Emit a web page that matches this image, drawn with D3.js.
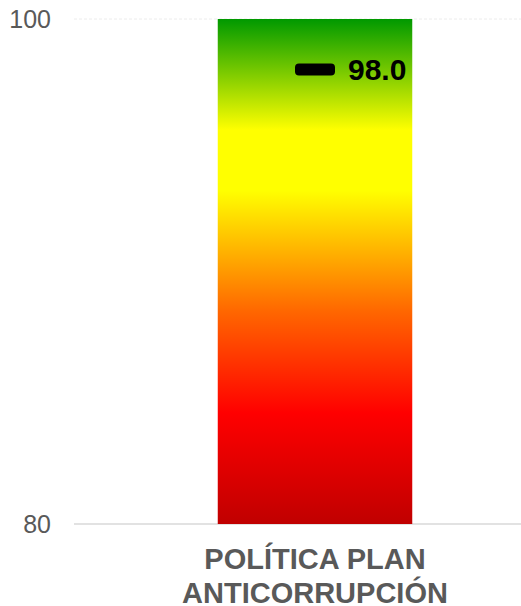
<!DOCTYPE html>
<html>
<head>
<meta charset="utf-8">
<script src="https://cdn.jsdelivr.net/npm/d3@7"></script>
<style>
  body { margin: 0; background: #fff; }
  text { font-family: "Liberation Sans", Arial, sans-serif; }
</style>
</head>
<body>
<script>
// Data
var categories = ["POLÍTICA PLAN ANTICORRUPCIÓN"];
var categoryLines = [["POLÍTICA PLAN", "ANTICORRUPCIÓN"]];
var bandLow = [80];
var bandHigh = [100];
var scores = [98.0];
var yTicks = [80, 100];

// Colour ramp of the background bar (offset, colour)
var gradientStops = [
    [0, "#009900"],
    [0.22, "#ffff00"],
    [0.34, "#ffff00"],
    [0.58, "#ff6600"],
    [0.78, "#ff0000"],
    [1, "#c00000"]
];

var width = 521;
var height = 606;
var plotLeft = 74;
var plotTop = 19;
var plotBottom = 524;

var svg = d3.select("body").
    append("svg").
    attr("width", width).
    attr("height", height);

var xScale = d3.scaleBand().
    domain(categories).
    range([plotLeft, 556]).
    padding(0.425);
var yScale = d3.scaleLinear().
    domain([80, 100]).
    range([plotBottom, plotTop]);

// Gradient for the bar
var grad = svg.append("defs").
    append("linearGradient").
    attr("id", "ramp").
    attr("x1", 0).attr("y1", 0).
    attr("x2", 0).attr("y2", 1);
grad.selectAll("stop").
    data(gradientStops).
    enter().
    append("stop").
    attr("offset", function(d) { return d[0]; }).
    attr("stop-color", function(d) { return d[1]; });

// Gridlines
svg.selectAll("line.grid").
    data(yTicks).
    enter().
    append("line").
    attr("class", "grid").
    attr("x1", plotLeft).
    attr("x2", width).
    attr("y1", function(d) { return yScale(d); }).
    attr("y2", function(d) { return yScale(d); }).
    attr("stroke", function(d) { return d == 80 ? "#d9d9d9" : "#ececec"; }).
    attr("stroke-width", function(d) { return d == 80 ? 1.5 : 1; }).
    attr("stroke-dasharray", function(d) { return d == 80 ? null : "3,2"; });

// Y axis labels
var yAxis = d3.axisLeft(yScale).
    tickValues(yTicks).
    tickSize(0).
    tickPadding(0);
var gy = svg.append("g").
    attr("transform", "translate(51,0)").
    call(yAxis);
gy.select(".domain").remove();
gy.selectAll("text").
    attr("font-family", "Liberation Sans, Arial, sans-serif").
    attr("font-size", "25px").
    attr("fill", "#595959").
    attr("dy", "0.35em");

// Background bar with the colour ramp
svg.selectAll("rect.bar").
    data(categories).
    enter().
    append("rect").
    attr("class", "bar").
    attr("x", function(d) { return xScale(d); }).
    attr("y", function(d, i) { return yScale(bandHigh[i]); }).
    attr("width", xScale.bandwidth()).
    attr("height", function(d, i) { return yScale(bandLow[i]) - yScale(bandHigh[i]); }).
    attr("fill", "url(#ramp)");

// Score marker
svg.selectAll("rect.marker").
    data(scores).
    enter().
    append("rect").
    attr("class", "marker").
    attr("x", function(d, i) { return xScale(categories[i]) + xScale.bandwidth() / 2 - 20; }).
    attr("y", function(d) { return yScale(d) - 6; }).
    attr("width", 40).
    attr("height", 12).
    attr("rx", 4).
    attr("fill", "#000");

svg.selectAll("text.score").
    data(scores).
    enter().
    append("text").
    attr("class", "score").
    attr("x", function(d, i) { return xScale(categories[i]) + xScale.bandwidth() / 2 + 33; }).
    attr("y", function(d) { return yScale(d); }).
    attr("dy", "0.36em").
    attr("font-size", "30px").
    attr("font-weight", "bold").
    attr("fill", "#000").
    text(function(d) { return d.toFixed(1); });

// Category label
var cat = svg.selectAll("text.cat").
    data(categories).
    enter().
    append("text").
    attr("class", "cat").
    attr("x", function(d) { return xScale(d) + xScale.bandwidth() / 2; }).
    attr("y", 569).
    attr("font-size", "29px").
    attr("font-weight", "bold").
    attr("fill", "#595959").
    style("text-anchor", "middle");
cat.selectAll("tspan").
    data(function(d, i) { return categoryLines[i]; }).
    enter().
    append("tspan").
    attr("x", function() { return xScale(categories[0]) + xScale.bandwidth() / 2; }).
    attr("dy", function(d, i) { return i == 0 ? 0 : 34; }).
    text(function(d) { return d; });
</script>
</body>
</html>
